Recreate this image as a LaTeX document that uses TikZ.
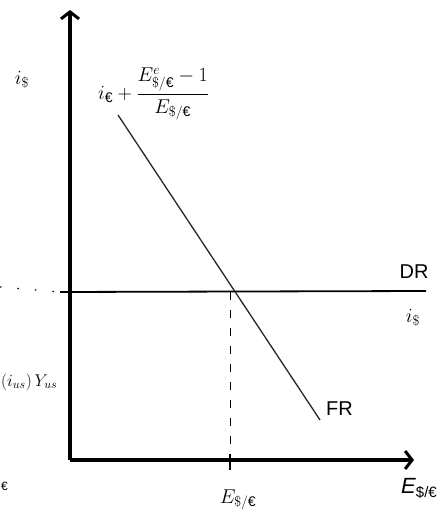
\documentclass[tikz,border=0pt]{standalone}
\usepackage{fix-cm}
\usepackage{amsmath}
\usepackage{fontspec}
\setmainfont{Liberation Sans}
\usetikzlibrary{arrows.meta}
\begin{document}
\begin{tikzpicture}[x=1pt,y=-1pt,
  axis/.style={line width=4pt,-{Straight Barb[length=7pt,width=18pt,line width=3pt]}},
  curve/.style={line width=1.3pt,black!85},
  hand/.style={font=\fontsize{20}{24}\selectfont,inner sep=0pt}]
\useasboundingbox (0,0) rectangle (438,529);
\coordinate (O) at (70,460);
\coordinate (ytop) at (70,10);
\coordinate (xend) at (414,460);
\draw[axis] (O) -- (ytop);
\draw[axis] (O) -- (xend);
% DR
\coordinate (drL) at (60,292);
\coordinate (drR) at (426,291);
\coordinate (dotL) at (0,287);
\draw[line width=1.8pt] (drL) -- (drR);
\draw[line width=1.2pt,dotted,dash pattern=on 1.5pt off 16pt] (dotL) -- (drL);
% FR
\coordinate (frA) at (118,115);
\coordinate (frB) at (320,420);
\draw[curve] (frA) -- (frB);
% dashed equilibrium
\coordinate (eq) at (230,292);
\coordinate (eqB) at (230,458);
\draw[line width=1pt,dash pattern=on 8pt off 10pt] (eq) -- (eqB);
\coordinate (t1) at (230,454);
\coordinate (t2) at (230,470);
\draw[line width=2.2pt] (t1) -- (t2);
% labels
\node[hand] (iD) at (22,80) {$i_{\$}$};
\node[hand,anchor=west] (form) at (98,94) {$i_{\text{€}}+\dfrac{E^{e}_{\$/\text{€}}-1}{E_{\$/\text{€}}}$};
\node[hand] (DR) at (414,272) {DR};
\node[hand] (iD2) at (413,318) {$i_{\$}$};
\node[hand,anchor=west] (FR) at (326,409) {FR};
\node[hand] (Eeq) at (238,500) {$E_{\$/\text{€}}$};
\node[font=\fontsize{22}{26}\selectfont,inner sep=0pt,anchor=east] (Ex) at (437,488) {\textit{E}\raisebox{-0.35ex}{\fontsize{15}{18}\selectfont\$/€}};
\node[font=\fontsize{17}{20}\selectfont,inner sep=0pt,anchor=west] (Yus) at (1,382) {$(i_{us})\,Y_{us}$};
\node[font=\fontsize{12}{14}\selectfont,inner sep=0pt,anchor=west] (eur) at (1,486) {€};
\end{tikzpicture}
\end{document}
